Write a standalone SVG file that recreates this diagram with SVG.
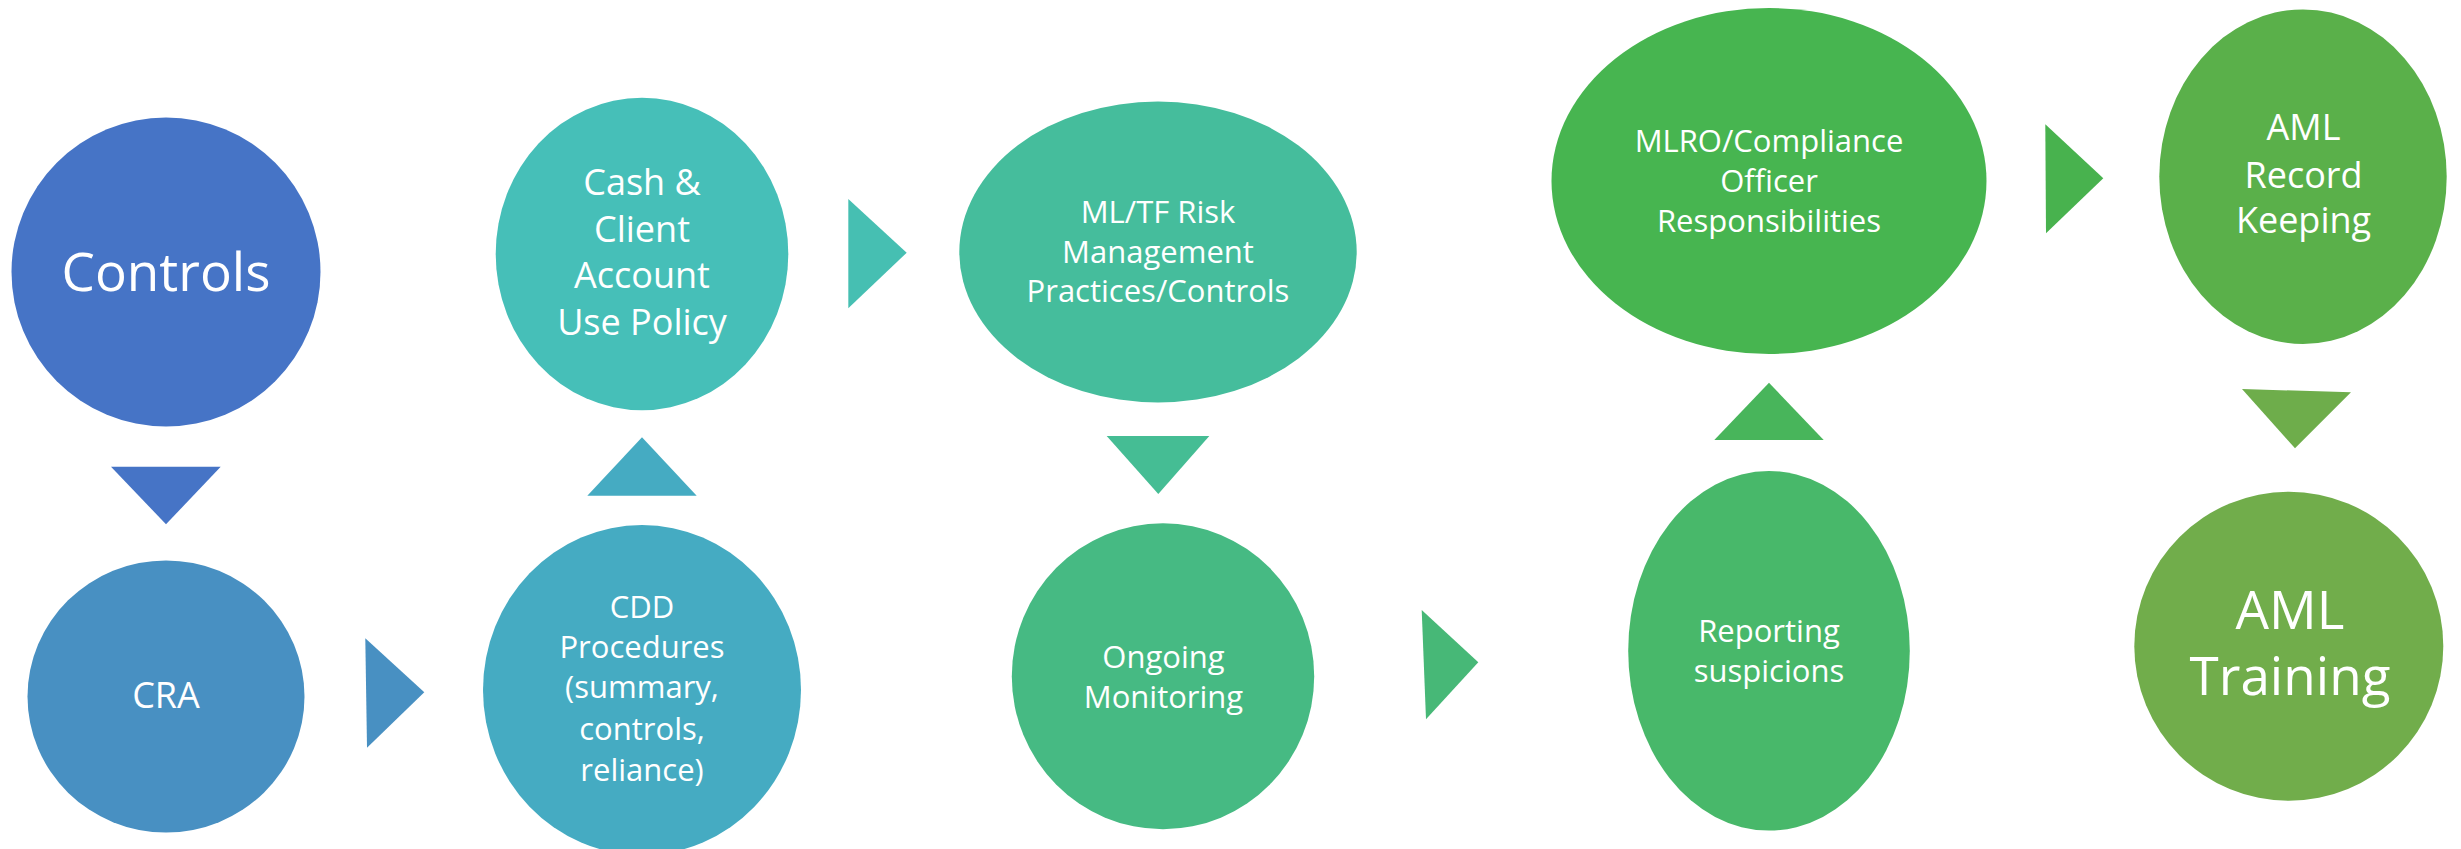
<svg xmlns="http://www.w3.org/2000/svg" width="2461" height="849" viewBox="0 0 2461 849">
<style>
text{font-family:"Open Sans","Noto Sans","Liberation Sans",sans-serif;fill:#ffffff;text-anchor:middle}
.xl{font-size:53px}
.m{font-size:36px}
.s{font-size:31px}
</style>
<rect x="0" y="0" width="2461" height="849" fill="#ffffff"/>
<g id="connectors">
<polygon points="111,466.7 220.7,466.7 166,524.3" fill="#4674C6"/>
<polygon points="365.3,638.3 367,747.7 424.3,692.3" fill="#4890C2"/>
<polygon points="642,437.3 696.7,495.7 587.3,495.7" fill="#45ABC2"/>
<polygon points="848.3,199 848.3,308.3 906.7,252.7" fill="#46BFB2"/>
<polygon points="1106.7,436 1209.3,436 1158.3,494" fill="#45BD94"/>
<polygon points="1421.7,610 1426,719.3 1478.3,662.3" fill="#47B877"/>
<polygon points="1769,382.7 1823.7,440 1714.3,440" fill="#48B55B"/>
<polygon points="2045.3,124.3 2046,233.3 2103.3,178.3" fill="#48B24E"/>
<polygon points="2242,389 2351,392.3 2295,448.3" fill="#6EAD4B"/>
</g>
<g id="controls">
<ellipse cx="166" cy="272" rx="154.5" ry="154.5" fill="#4674C6"/>
<text class="xl" x="166" y="290.7">Controls</text>
</g>
<g id="cra">
<ellipse cx="166" cy="696.5" rx="138.5" ry="136" fill="#4890C2"/>
<text class="m" x="166" y="708.3">CRA</text>
</g>
<g id="cdd">
<ellipse cx="642" cy="690" rx="159" ry="165" fill="#45ABC2"/>
<text class="s" x="642" y="618.3">CDD</text>
<text class="s" x="642" y="657.7">Procedures</text>
<text class="s" x="642" y="697.7">(summary,</text>
<text class="s" x="642" y="740">controls,</text>
<text class="s" x="642" y="780.7">reliance)</text>
</g>
<g id="cash">
<ellipse cx="642" cy="254" rx="146.3" ry="156.2" fill="#46BFB8"/>
<text class="m" x="642" y="195">Cash &amp;</text>
<text class="m" x="642" y="242.3">Client</text>
<text class="m" x="642" y="288.3">Account</text>
<text class="m" x="642" y="335">Use Policy</text>
</g>
<g id="mltf">
<ellipse cx="1158" cy="252" rx="198.7" ry="150.5" fill="#45BD9C"/>
<text class="s" x="1158" y="223.3">ML/TF Risk</text>
<text class="s" x="1158" y="263.3">Management</text>
<text class="s" x="1158" y="302.3">Practices/Controls</text>
</g>
<g id="ongoing">
<ellipse cx="1163" cy="676.3" rx="151.2" ry="153" fill="#46BA83"/>
<text class="s" x="1163.5" y="668.3">Ongoing</text>
<text class="s" x="1163.5" y="707.7">Monitoring</text>
</g>
<g id="reporting">
<ellipse cx="1769" cy="650.8" rx="140.8" ry="179.8" fill="#48B86A"/>
<text class="s" x="1769" y="641.7">Reporting</text>
<text class="s" x="1769" y="681.7">suspicions</text>
</g>
<g id="mlro">
<ellipse cx="1769" cy="181" rx="217.5" ry="173" fill="#47B550"/>
<text class="s" x="1769" y="152.3">MLRO/Compliance</text>
<text class="s" x="1769" y="192.3">Officer</text>
<text class="s" x="1769" y="231.7">Responsibilities</text>
</g>
<g id="aml-record">
<ellipse cx="2303" cy="176.7" rx="143.7" ry="167.3" fill="#5AB04A"/>
<text class="m" x="2303.5" y="140">AML</text>
<text class="m" x="2303.5" y="188.3">Record</text>
<text class="m" x="2303.5" y="233.3">Keeping</text>
</g>
<g id="aml-training">
<ellipse cx="2288.8" cy="646.2" rx="154.5" ry="154.5" fill="#71AD4B"/>
<text class="xl" x="2290" y="629.3">AML</text>
<text class="xl" x="2290" y="695">Training</text>
</g>
</svg>
